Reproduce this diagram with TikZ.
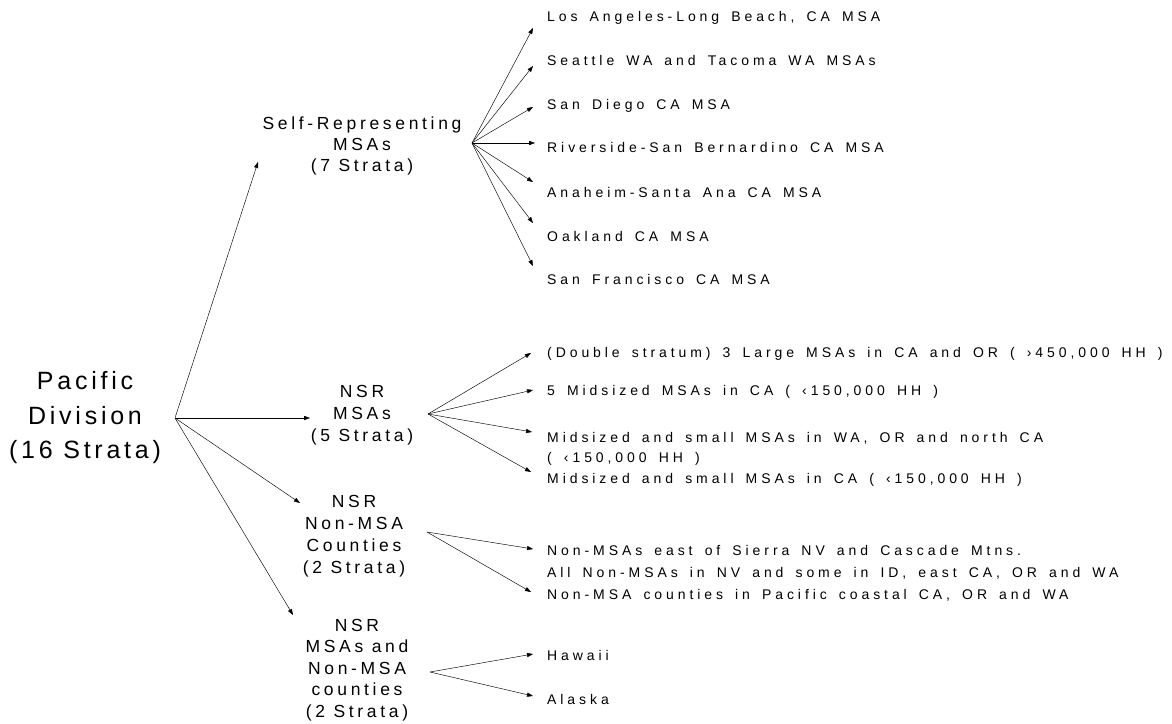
\documentclass[tikz,border=0pt]{standalone}
\usepackage{fontspec}
\usetikzlibrary{arrows.meta}
\newfontfamily\bigfam[LetterSpace=15]{Liberation Sans}
\newfontfamily\midfam[LetterSpace=21]{Liberation Sans}
\newfontfamily\leaffam[LetterSpace=28,WordSpace=1.55]{Liberation Sans}
\tikzset{
  bigtext/.style={font=\bigfam\fontsize{25}{34.5}\selectfont, align=center, inner sep=0pt},
  midtext/.style={font=\midfam\fontsize{17.5}{22}\selectfont, align=center, inner sep=0pt},
  leaftext/.style={font=\leaffam\fontsize{14}{20}\selectfont, inner sep=0pt, anchor=base west},
  arr/.style={draw, line width=0.45pt, -{Triangle[length=6pt,width=4.2pt]}},
}
\begin{document}
\begin{tikzpicture}[x=1pt,y=-1pt]
\useasboundingbox[fill=white] (0,0) rectangle (1172,723);
% root
\node[bigtext] (pac) at (85,418) {Pacific\\Division\\(16 Strata)};
\coordinate (pacO) at (175,418);
% second level
\node[midtext, font=\midfam\fontsize{17.5}{21}\selectfont] (sr) at (362,146) {Self-Representing\\MSAs\\(7 Strata)};
\node[midtext] (nsrm) at (362,415) {NSR\\MSAs\\(5 Strata)};
\node[midtext] (nsrn) at (354,536) {NSR\\Non-MSA\\Counties\\(2 Strata)};
\node[midtext, font=\midfam\fontsize{17.5}{21.5}\selectfont] (nsrb) at (357,670) {NSR\\MSAs and\\Non-MSA\\counties\\(2 Strata)};
\coordinate (srT) at (258,162);
\coordinate (nsrmT) at (310,418);
\coordinate (nsrnT) at (300,503);
\coordinate (nsrbT) at (293,615);
\draw[arr] (pacO) -- (srT);
\draw[arr] (pacO) -- (nsrmT);
\draw[arr] (pacO) -- (nsrnT);
\draw[arr] (pacO) -- (nsrbT);
% fan origins
\coordinate (srO) at (472,143);
\coordinate (nsrmO) at (428,414);
\coordinate (nsrnO) at (427,532);
\coordinate (nsrbO) at (430,672);
% self-representing leaves
\node[leaftext] (la) at (547,21) {Los Angeles-Long Beach, CA MSA};
\node[leaftext] (se) at (547,65) {Seattle WA and Tacoma WA MSAs};
\node[leaftext] (sd) at (547,109) {San Diego CA MSA};
\node[leaftext] (ri) at (547,152) {Riverside-San Bernardino CA MSA};
\node[leaftext] (an) at (547,197) {Anaheim-Santa Ana CA MSA};
\node[leaftext] (oa) at (547,241) {Oakland CA MSA};
\node[leaftext] (sf) at (547,284) {San Francisco CA MSA};
\coordinate (laT) at (533,28);
\coordinate (seT) at (533,66);
\coordinate (sdT) at (533,107);
\coordinate (riT) at (535,143);
\coordinate (anT) at (533,182);
\coordinate (oaT) at (533,223);
\coordinate (sfT) at (533,266);
\foreach \t in {laT,seT,sdT,riT,anT,oaT,sfT} \draw[arr] (srO) -- (\t);
% NSR MSAs leaves
\node[leaftext] (ds) at (547,357) {(Double stratum) 3 Large MSAs in CA and OR ( ›450,000 HH )};
\node[leaftext] (mi) at (547,395) {5 Midsized MSAs in CA ( ‹150,000 HH )};
\node[leaftext] (wa) at (547,442) {Midsized and small MSAs in WA, OR and north CA};
\node[leaftext] (wa2) at (547,462) {( ‹150,000 HH )};
\node[leaftext] (ca) at (547,483) {Midsized and small MSAs in CA ( ‹150,000 HH )};
\coordinate (dsT) at (531,353);
\coordinate (miT) at (533,390);
\coordinate (waT) at (532,432);
\coordinate (caT) at (531,472);
\foreach \t in {dsT,miT,waT,caT} \draw[arr] (nsrmO) -- (\t);
% NSR Non-MSA leaves
\node[leaftext] (ea) at (547,555) {Non-MSAs east of Sierra NV and Cascade Mtns.};
\node[leaftext] (ea2) at (547,577) {All Non-MSAs in NV and some in ID, east CA, OR and WA};
\node[leaftext] (co) at (547,599) {Non-MSA counties in Pacific coastal CA, OR and WA};
\coordinate (eaT) at (533,549);
\coordinate (coT) at (531,592);
\draw[arr] (nsrnO) -- (eaT);
\draw[arr] (nsrnO) -- (coT);
% last
\node[leaftext] (hi) at (547,660) {Hawaii};
\node[leaftext] (ak) at (547,704) {Alaska};
\coordinate (hiT) at (533,654);
\coordinate (akT) at (533,696);
\draw[arr] (nsrbO) -- (hiT);
\draw[arr] (nsrbO) -- (akT);
\end{tikzpicture}
\end{document}
